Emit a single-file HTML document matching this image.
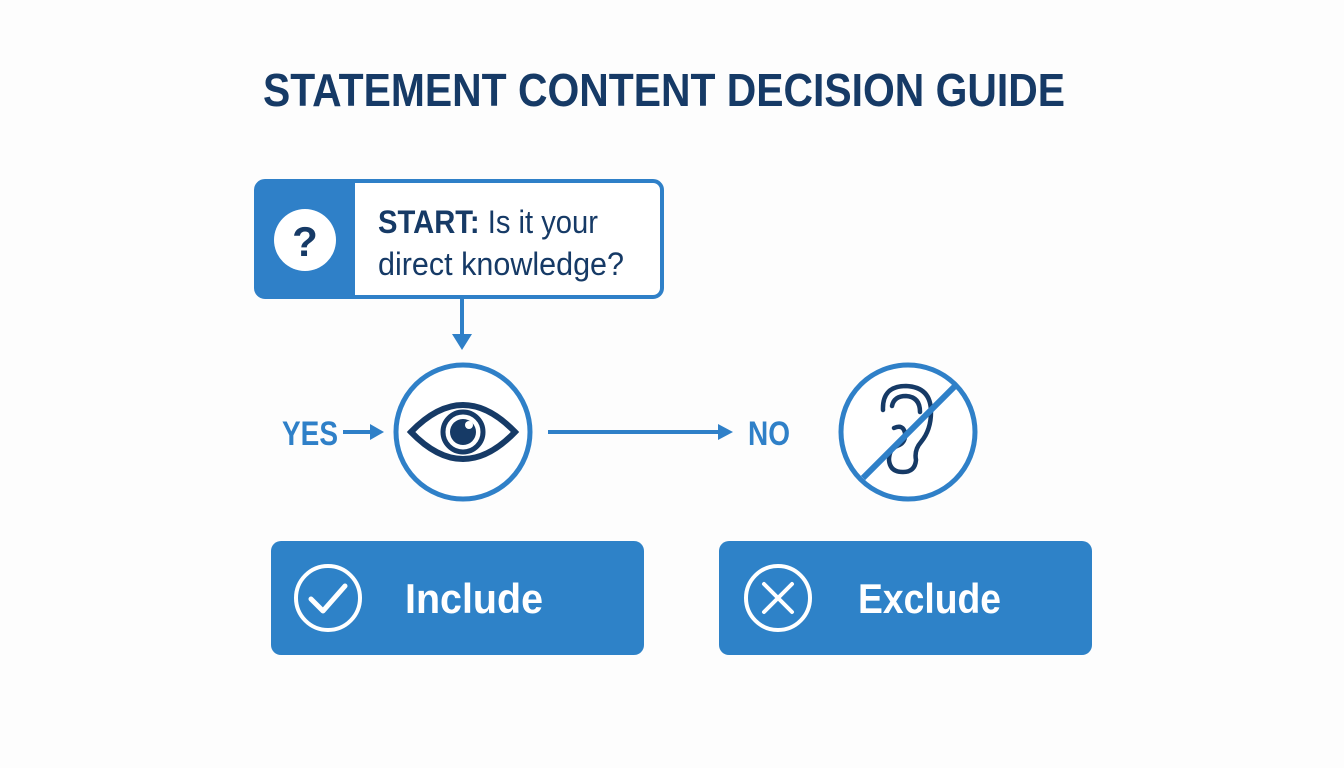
<!DOCTYPE html>
<html><head><meta charset="utf-8"><style>
html,body{margin:0;padding:0;background:#fff;}
svg{display:block}
text{font-family:"Liberation Sans Narrow","Liberation Sans",sans-serif;font-weight:bold}
</style></head><body>
<svg width="1344" height="768" viewBox="0 0 1344 768" xmlns="http://www.w3.org/2000/svg">
<rect width="1344" height="768" fill="#fdfdfd"/>
<text x="664" y="106" text-anchor="middle" font-size="46" fill="#163a66" textLength="802" lengthAdjust="spacingAndGlyphs">STATEMENT CONTENT DECISION GUIDE</text>
<!-- start box -->
<rect x="256" y="181" width="406" height="116" rx="9" fill="#fff" stroke="#2f80c8" stroke-width="4"/>
<path d="M265 181 H355 V297 H265 A9 9 0 0 1 256 288 V190 A9 9 0 0 1 265 181Z" fill="#2f80c8"/>
<circle cx="305" cy="240" r="31" fill="#fff"/>
<text x="305" y="256" text-anchor="middle" font-size="42" fill="#163a66">?</text>
<text x="378" y="233" font-size="32" fill="#163a66" textLength="220" lengthAdjust="spacingAndGlyphs">START: <tspan style="font-weight:normal">Is it your</tspan></text>
<text x="378" y="275" font-size="32" fill="#163a66" style="font-weight:normal" textLength="246" lengthAdjust="spacingAndGlyphs">direct knowledge?</text>
<!-- down arrow -->
<line x1="462" y1="298" x2="462" y2="336" stroke="#2f80c8" stroke-width="4"/>
<path d="M452 334 L472 334 L462 350Z" fill="#2f80c8"/>
<!-- eye circle -->
<circle cx="463" cy="432" r="67" fill="#fff" stroke="#2f80c8" stroke-width="5"/>
<path d="M411 432 Q463 378 515 432 Q463 486 411 432Z" fill="none" stroke="#163a66" stroke-width="6"/>
<circle cx="463" cy="432" r="20" fill="none" stroke="#163a66" stroke-width="5"/>
<circle cx="463" cy="432" r="13" fill="#163a66"/>
<circle cx="469" cy="425" r="4" fill="#fff"/>
<!-- YES -->
<text x="282" y="445" font-size="34" fill="#2f80c8" textLength="56" lengthAdjust="spacingAndGlyphs">YES</text>
<line x1="343" y1="432" x2="374" y2="432" stroke="#2f80c8" stroke-width="4"/>
<path d="M370 424 L384 432 L370 440Z" fill="#2f80c8"/>
<!-- NO arrow -->
<line x1="548" y1="432" x2="722" y2="432" stroke="#2f80c8" stroke-width="4"/>
<path d="M718 424 L733 432 L718 440Z" fill="#2f80c8"/>
<text x="748" y="445" font-size="34" fill="#2f80c8" textLength="42" lengthAdjust="spacingAndGlyphs">NO</text>
<!-- ear circle -->
<circle cx="908" cy="432" r="67" fill="#fff" stroke="#2f80c8" stroke-width="5"/>
<path d="M883 410 Q882 386 906 386 Q931 387 931 412 Q931 430 921 442 Q914 450 916 460 Q915 472 903 472 Q890 472 889 460 Q889 449 897 446 Q906 443 905 433 Q903 424 894 428" fill="none" stroke="#163a66" stroke-width="4.5" stroke-linecap="round"/>
<path d="M892 406 Q894 396 906 396 Q920 397 920 412" fill="none" stroke="#163a66" stroke-width="4.5" stroke-linecap="round"/>
<line x1="863" y1="478" x2="955" y2="386" stroke="#2f80c8" stroke-width="6"/>
<!-- include -->
<rect x="271" y="541" width="373" height="114" rx="10" fill="#2e82c8"/>
<circle cx="328" cy="598" r="32" fill="none" stroke="#fff" stroke-width="4"/>
<path d="M311 599 L323 611 L345 586" fill="none" stroke="#fff" stroke-width="5" stroke-linecap="round" stroke-linejoin="round"/>
<text x="405" y="613" font-size="42" fill="#fff" textLength="138" lengthAdjust="spacingAndGlyphs">Include</text>
<!-- exclude -->
<rect x="719" y="541" width="373" height="114" rx="10" fill="#2e82c8"/>
<circle cx="778" cy="598" r="32" fill="none" stroke="#fff" stroke-width="4"/>
<path d="M764 584 L792 612 M792 584 L764 612" stroke="#fff" stroke-width="4" stroke-linecap="round"/>
<text x="858" y="613" font-size="42" fill="#fff" textLength="143" lengthAdjust="spacingAndGlyphs">Exclude</text>
</svg>
</body></html>
